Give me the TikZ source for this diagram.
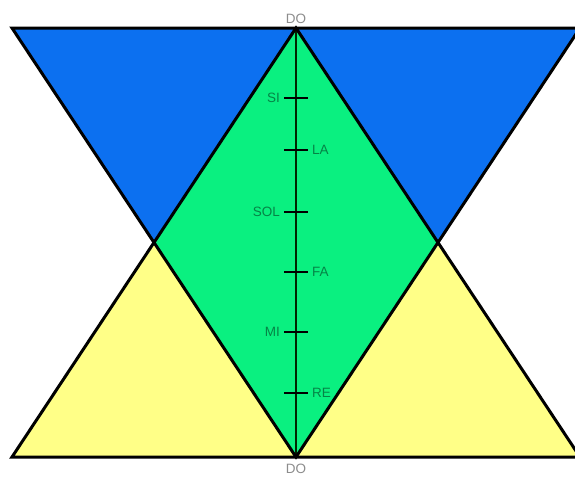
\documentclass[tikz,border=0pt]{standalone}
\usepackage{fontspec}
\setsansfont{Liberation Sans}
\usepackage{xcolor}
\usetikzlibrary{positioning}

\definecolor{topblue}{RGB}{12,112,240}
\definecolor{midgreen}{RGB}{10,240,128}
\definecolor{lowyellow}{RGB}{255,255,135}

\begin{document}
\begin{tikzpicture}[
    x=1pt, y=-1pt,
    outline/.style={line width=3pt, line join=miter},
    axis/.style={line width=1.6pt, draw=black!85!green},
    tickmark/.style={line width=1.6pt},
    note/.style={font=\sffamily\fontsize{13.5}{14}\selectfont, text=black, text opacity=0.45, inner sep=1pt}
]
\useasboundingbox (0,0) rectangle (575,485);
\clip (0,0) rectangle (575,485);

\coordinate (tl) at (12,28);
\coordinate (tr) at (580,28);
\coordinate (bl) at (12,457);
\coordinate (br) at (580,457);
\coordinate (top) at (296,28);
\coordinate (bot) at (296,457);
\coordinate (lx) at (154,242.5);
\coordinate (rx) at (438,242.5);

% the three coloured regions
\fill[topblue] (tl) -- (tr) -- (bot) -- cycle;
\fill[lowyellow] (bl) -- (br) -- (top) -- cycle;
\fill[midgreen] (top) -- (rx) -- (bot) -- (lx) -- cycle;

% the scale
\draw[axis] (top) -- (bot);
\foreach \y/\nm/\sd in {98/SI/left, 150/LA/right, 212/SOL/left, 272/FA/right, 332/MI/left, 393/RE/right} {
  \coordinate (t\nm) at (296,\y);
  \draw[tickmark] ([xshift=-12pt]t\nm) -- ([xshift=12pt]t\nm);
  \node[note, \sd=15pt of t\nm] (l\nm) {\nm};
}

\draw[outline] (tl) -- (tr) -- (bot) -- cycle;
\draw[outline] (bl) -- (br) -- (top) -- cycle;

\node[note, above=3pt of top] (dotop) {DO};
\node[note, below=6pt of bot] (dobot) {DO};
\end{tikzpicture}
\end{document}
